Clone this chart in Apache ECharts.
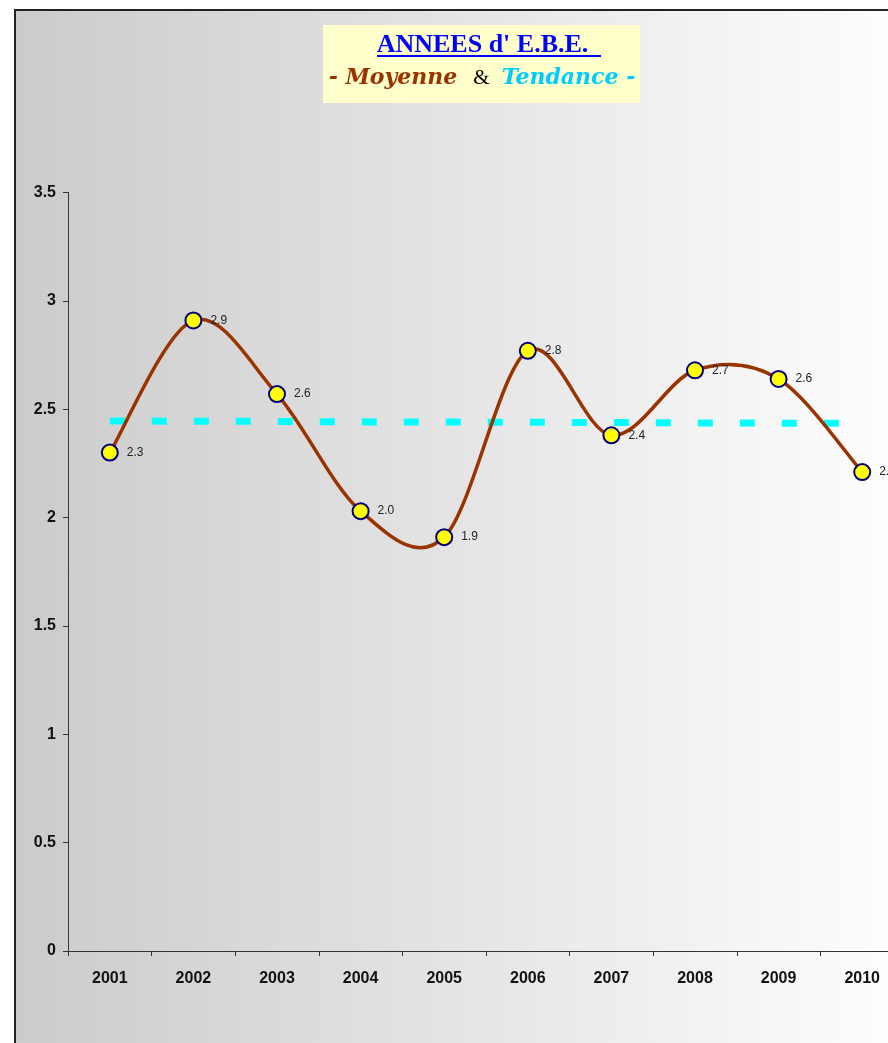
<!DOCTYPE html>
<html>
<head>
<meta charset="utf-8">
<script src="https://cdn.jsdelivr.net/npm/echarts@6/dist/echarts.min.js"></script>
<style>
html,body{margin:0;padding:0;overflow:hidden;background:#ffffff;}
#chart{width:920px;height:1043px;}
</style>
</head>
<body>
<div id="chart"></div>
<script>
var years = ['2001','2002','2003','2004','2005','2006','2007','2008','2009','2010'];
var moyenne = [2.30, 2.91, 2.57, 2.03, 1.91, 2.77, 2.38, 2.68, 2.64, 2.21];
var tendance = [2.446, 2.445, 2.444, 2.442, 2.441, 2.440, 2.439, 2.437, 2.436, 2.435];
var yTicks = [0, 0.5, 1, 1.5, 2, 2.5, 3, 3.5];

var chart = echarts.init(document.getElementById('chart'), null, {renderer:'canvas'});

// Excel-style smoothed curve (Catmull-Rom -> Bezier), points mapped by ECharts' scales
function renderCurve(params, api) {
  if (params.dataIndex !== 0) return null;
  var pts = moyenne.map(function (v, i) { return api.coord([i, v]); });
  var n = pts.length, children = [];
  function tangent(i) {
    var a = pts[Math.max(0, i - 1)], b = pts[Math.min(n - 1, i + 1)];
    return [(b[0] - a[0]) / 6, (b[1] - a[1]) / 6];
  }
  for (var i = 0; i < n - 1; i++) {
    var t0 = tangent(i), t1 = tangent(i + 1);
    children.push({
      type: 'bezierCurve',
      shape: {
        x1: pts[i][0], y1: pts[i][1],
        cpx1: pts[i][0] + t0[0], cpy1: pts[i][1] + t0[1],
        cpx2: pts[i + 1][0] - t1[0], cpy2: pts[i + 1][1] - t1[1],
        x2: pts[i + 1][0], y2: pts[i + 1][1]
      },
      style: {stroke: '#993300', lineWidth: 3.5, fill: null, lineCap: 'round', lineJoin: 'round'}
    });
  }
  return {type: 'group', children: children};
}

var option = {
  animation: false,
  title: [
    {
      text: "ANNEES d' E.B.E.",
      left: 482.5, top: 32.5, textAlign: 'center', padding: 0,
      textStyle: {fontFamily: '"Liberation Serif", serif', fontWeight: 'bold', fontSize: 26, color: '#0000ff', lineHeight: 26}
    },
    {
      text: '{a|- Moyenne}{b|&}{c|Tendance -}',
      left: 482, top: 66, textAlign: 'center', padding: 0,
      textStyle: {
        lineHeight: 24,
        rich: {
          a: {fontFamily: '"DejaVu Serif", serif', fontWeight: 'bold', fontStyle: 'italic', fontSize: 22, color: '#993300', lineHeight: 24},
          b: {fontFamily: '"Liberation Serif", serif', fontWeight: 'normal', fontSize: 21, color: '#000000', lineHeight: 24, padding: [0, 12, 0, 16]},
          c: {fontFamily: '"DejaVu Serif", serif', fontWeight: 'bold', fontStyle: 'italic', fontSize: 22, color: '#00ccff', lineHeight: 24}
        }
      }
    }
  ],
  graphic: [
    {
      type: 'rect', z: -10, silent: true,
      shape: {x: 15, y: 10, width: 1000, height: 1100},
      style: {
        fill: new echarts.graphic.LinearGradient(0, 0, 1, 0, [
          {offset: 0, color: '#cbcbcb'},
          {offset: 0.87, color: '#fdfdfd'},
          {offset: 1, color: '#ffffff'}
        ]),
        stroke: '#222222', lineWidth: 2
      }
    },
    {
      type: 'rect', z: -5, silent: true,
      shape: {x: 323, y: 25, width: 317, height: 78},
      style: {fill: '#ffffcc'}
    },
    {
      type: 'line', z: 5, silent: true,
      shape: {x1: 377, y1: 56, x2: 601, y2: 56},
      style: {stroke: '#0000ff', lineWidth: 2}
    }
  ],
  grid: {left: 68, top: 192.6, width: 836, height: 758.4, containLabel: false},
  xAxis: {
    type: 'category',
    data: years,
    boundaryGap: true,
    axisLine: {show: true, lineStyle: {color: '#333333', width: 1}},
    axisTick: {show: true, length: 5, inside: false, lineStyle: {color: '#333333'}},
    axisLabel: {margin: 20, fontFamily: '"Liberation Sans", Arial, sans-serif', fontWeight: 'bold', fontSize: 16, color: '#111111'},
    splitLine: {show: false}
  },
  yAxis: {
    type: 'value',
    min: 0, max: 3.5, interval: 0.5,
    axisLine: {show: true, lineStyle: {color: '#333333', width: 1}},
    axisTick: {show: true, length: 5, inside: false, lineStyle: {color: '#333333'}},
    axisLabel: {margin: 12, fontFamily: '"Liberation Sans", Arial, sans-serif', fontWeight: 'bold', fontSize: 16, color: '#111111',
      formatter: function (v) { return yTicks.indexOf(v) >= 0 ? String(v) : ''; }},
    splitLine: {show: false}
  },
  series: [
    {
      name: 'Tendance',
      type: 'line',
      data: tendance,
      symbol: 'none',
      z: 2,
      lineStyle: {color: '#00ffff', width: 7, type: [15, 27], cap: 'butt'}
    },
    {
      name: 'Moyenne courbe',
      type: 'custom',
      z: 3,
      data: moyenne.map(function (v, i) { return [i, v]; }),
      encode: {x: 0, y: 1},
      renderItem: renderCurve,
      silent: true
    },
    {
      name: 'Moyenne',
      type: 'line',
      data: moyenne,
      z: 4,
      symbol: 'circle',
      symbolSize: 16,
      itemStyle: {color: '#ffff00', borderColor: '#000080', borderWidth: 2},
      lineStyle: {width: 0, opacity: 0},
      label: {
        show: true, position: 'right', distance: 8,
        fontFamily: '"Liberation Sans", Arial, sans-serif', fontSize: 12, color: '#222222',
        formatter: function (p) { return p.value.toFixed(1); }
      }
    }
  ]
};
chart.setOption(option);
</script>
</body>
</html>
